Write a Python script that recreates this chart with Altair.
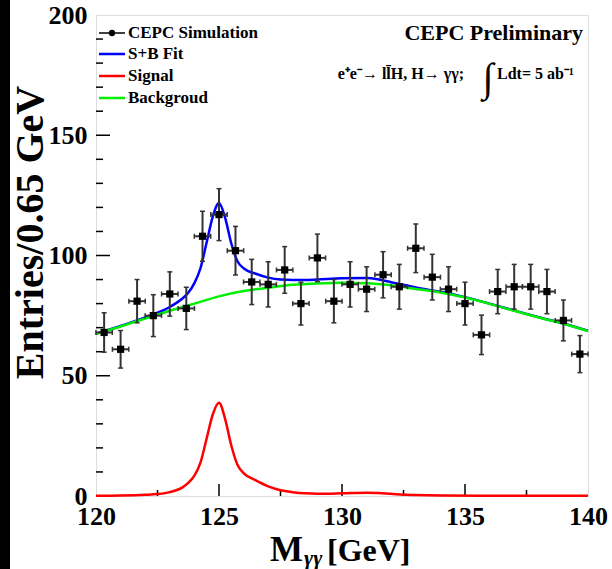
import altair as alt
import pandas as pd

# ---------------- data ----------------
bin_centers = [120.33, 121.00, 121.67, 122.33, 123.00, 123.67, 124.33, 125.00, 125.67, 126.33,
               127.00, 127.67, 128.33, 129.00, 129.67, 130.33, 131.00, 131.67, 132.33, 133.00,
               133.67, 134.33, 135.00, 135.67, 136.33, 137.00, 137.67, 138.33, 139.00, 139.67]
counts = [68, 61, 81, 75, 84, 78, 108, 117, 102, 89,
          88, 94, 80, 99, 81, 88, 86, 92, 87, 103,
          91, 86, 80, 67, 85, 87, 87, 85, 73, 59]
errors = [8.2, 7.8, 9.0, 8.7, 9.2, 8.8, 10.4, 10.8, 10.1, 9.4,
          9.4, 9.7, 8.9, 9.9, 9.0, 9.4, 9.3, 9.6, 9.3, 10.1,
          9.5, 9.3, 8.9, 8.2, 9.2, 9.3, 9.3, 9.2, 8.5, 7.7]
bin_half_width = 0.333

bkg_x = [120, 121, 122, 123, 124, 125, 126, 127, 128, 129, 130,
         131, 132, 133, 134, 135, 136, 137, 138, 139, 140]
bkg_y = [67.4, 70.5, 73.8, 77.0, 80.0, 83.0, 85.2, 86.6, 87.8, 88.4, 88.7,
         88.5, 87.6, 86.1, 84.6, 82.5, 79.9, 77.0, 74.2, 71.6, 68.6]

sig_x = [120, 121, 122, 122.5, 123, 123.5, 123.75, 124, 124.25, 124.5, 124.75, 125,
         125.25, 125.5, 125.75, 126, 126.5, 127, 127.5, 128, 128.5, 129, 130, 131,
         131.5, 132, 133, 134, 136, 140]
sig_y = [0.1, 0.2, 0.5, 0.8, 1.6, 3.5, 5.5, 8.5, 14, 24, 34, 38.8,
         32, 21, 13, 9.5, 6.5, 4.0, 2.4, 1.6, 1.1, 0.9, 1.1, 1.4,
         1.2, 0.9, 0.4, 0.2, 0.15, 0.1]

sb_x = [120, 121, 122, 122.5, 123, 123.5, 123.75, 124, 124.25, 124.5, 124.75, 125,
        125.25, 125.5, 125.75, 126, 126.5, 127, 127.5, 128, 128.5, 129, 130, 131,
        131.5, 132, 133, 134, 135, 136, 137, 138, 139, 140]
sb_y = [67.5, 70.7, 74.3, 76.2, 78.6, 82.0, 84.5, 88.5, 94.8, 105.5, 116.3, 121.8,
        115.6, 105.0, 97.6, 94.7, 92.4, 90.8, 90.0, 89.8, 89.8, 90.0, 90.5, 90.6,
        90.0, 88.9, 86.7, 84.9, 82.7, 80.0, 77.1, 74.3, 71.7, 68.7]

x_labels = [120, 125, 130, 135, 140]
y_labels = [0, 50, 100, 150, 200]
x_major_ticks = [125, 130, 135]
x_minor_ticks = [122.5, 127.5, 132.5, 137.5]
y_major_ticks = [50, 100, 150]
y_minor_ticks = [10, 20, 30, 40, 60, 70, 80, 90, 110, 120, 130, 140, 160, 170, 180, 190]

# ---------------- chart ----------------
W, H = 492, 481
FONT = "Liberation Serif"

xscale = alt.Scale(domain=[120, 140], nice=False, zero=False)
yscale = alt.Scale(domain=[0, 200], nice=False, zero=True)
xaxis = alt.Axis(values=x_labels, format="d", ticks=False, domain=False, grid=False,
                 labelFont=FONT, labelFontWeight="bold", labelFontSize=26, labelColor="black",
                 labelPadding=7, title=None, labelFlush=False)
yaxis = alt.Axis(values=y_labels, format="d", ticks=False, domain=False, grid=False,
                 labelFont=FONT, labelFontWeight="bold", labelFontSize=26, labelColor="black",
                 labelPadding=9, title="Entries/0.65 GeV", titleFont=FONT, titleFontWeight="bold",
                 titleFontSize=40, titleColor="black", titleX=-66, titleY=217,
                 titleAlign="center", titleBaseline="middle", labelFlush=False)


def X(f):
    return alt.X(f, type="quantitative", scale=xscale, axis=xaxis)


def Y(f):
    return alt.Y(f, type="quantitative", scale=yscale, axis=yaxis)


pts = pd.DataFrame({"m": bin_centers, "n": counts, "e": errors})
bkg = pd.DataFrame({"m": bkg_x, "v": bkg_y})
sig = pd.DataFrame({"m": sig_x, "v": sig_y})
sb = pd.DataFrame({"m": sb_x, "v": sb_y})
one = pd.DataFrame({"d": [0]})

base_pts = alt.Chart(pts).transform_calculate(
    lo="datum.n - datum.e", hi="datum.n + datum.e",
    xl=f"datum.m - {bin_half_width}", xr=f"datum.m + {bin_half_width}")

ebar_col = "#333333"
vbars = base_pts.mark_rule(color=ebar_col, strokeWidth=2).encode(x=X("m"), y=Y("lo"), y2="hi:Q")
hbars = base_pts.mark_rule(color=ebar_col, strokeWidth=2).encode(x=X("xl"), x2="xr:Q", y=Y("n"))
cap_hi = base_pts.mark_tick(orient="horizontal", size=5, thickness=1.5, color=ebar_col, opacity=1).encode(x=X("m"), y=Y("hi"))
cap_lo = base_pts.mark_tick(orient="horizontal", size=5, thickness=1.5, color=ebar_col, opacity=1).encode(x=X("m"), y=Y("lo"))
cap_l = base_pts.mark_tick(orient="vertical", size=5, thickness=1.5, color=ebar_col, opacity=1).encode(x=X("xl"), y=Y("n"))
cap_r = base_pts.mark_tick(orient="vertical", size=5, thickness=1.5, color=ebar_col, opacity=1).encode(x=X("xr"), y=Y("n"))
markers = base_pts.mark_square(size=52, color="black", opacity=1).encode(x=X("m"), y=Y("n"))

green = alt.Chart(bkg).mark_line(color="#00ee00", strokeWidth=2.5, interpolate="monotone").encode(x=X("m"), y=Y("v"))
red = alt.Chart(sig).mark_line(color="#ff0000", strokeWidth=2.5, interpolate="monotone").encode(x=X("m"), y=Y("v"))
blue = alt.Chart(sb).mark_line(color="#0000ff", strokeWidth=2.5, interpolate="monotone").encode(x=X("m"), y=Y("v"))


# inside ticks (ROOT style)
def xticks(vals, length):
    return alt.Chart(pd.DataFrame({"t": vals})).mark_rule(color="black", strokeWidth=1.5).encode(
        x=alt.X("t:Q", scale=xscale, axis=xaxis), y=alt.value(H), y2=alt.value(H - length))


def yticks(vals, length):
    return alt.Chart(pd.DataFrame({"t": vals})).mark_rule(color="black", strokeWidth=1.5).encode(
        y=alt.Y("t:Q", scale=yscale, axis=yaxis), x=alt.value(0), x2=alt.value(length))


def txt(s, x, y, size, align="left", style="normal"):
    return alt.Chart(one).mark_text(text=s, align=align, baseline="alphabetic", fontSize=size,
                                    fontWeight="bold", font=FONT, color="black", fontStyle=style).encode(
        x=alt.value(x), y=alt.value(y))


def hline(x1, x2, y, color, w=2.5):
    return alt.Chart(one).mark_rule(color=color, strokeWidth=w).encode(
        x=alt.value(x1), x2=alt.value(x2), y=alt.value(y))


strip = alt.Chart(one).mark_rect(color="black").encode(
    x=alt.value(-96), x2=alt.value(-86), y=alt.value(-15), y2=alt.value(554))

# legend
leg = [
    hline(3, 29, 18, "black", 1.5),
    alt.Chart(one).mark_circle(size=40, color="black", opacity=1).encode(x=alt.value(16), y=alt.value(18)),
    txt("CEPC Simulation", 32, 23, 17),
    hline(3, 29, 39, "#0000ff"),
    txt("S+B Fit", 32, 44, 17),
    hline(3, 29, 61, "#ff0000"),
    txt("Signal", 32, 66, 17),
    hline(3, 29, 83, "#00ee00"),
    txt("Backgroud", 32, 88, 17),
]

labels = [
    txt("CEPC Preliminary", 487, 25, 22, align="right"),
    txt("e\u207ae\u207b\u2192 ll\u0304H, H\u2192  \u03b3\u03b3;", 368, 64, 16, align="right"),
    txt("\u222b", 392, 76, 40, align="center"),
    txt("Ldt= 5 ab\u207b\u00b9", 401, 64, 16),
    txt("M", 174, 546, 35),
    txt("\u03b3\u03b3", 208, 550, 22, style="italic"),
    txt("[GeV]", 231, 546, 32),
]

chart = alt.layer(
    strip,
    xticks(x_major_ticks, 12), xticks(x_minor_ticks, 6),
    yticks(y_major_ticks, 14), yticks(y_minor_ticks, 7),
    blue, green, red,
    vbars, hbars, cap_hi, cap_lo, cap_l, cap_r, markers,
    *leg, *labels,
).properties(
    width=W, height=H,
    padding={"left": 96, "top": 15, "right": 24, "bottom": 73},
    autosize=alt.AutoSizeParams(type="none"),
).configure_view(stroke="black", strokeWidth=2).configure(background="white")

chart.save("out.html", embed_options={"renderer": "svg", "actions": False})
